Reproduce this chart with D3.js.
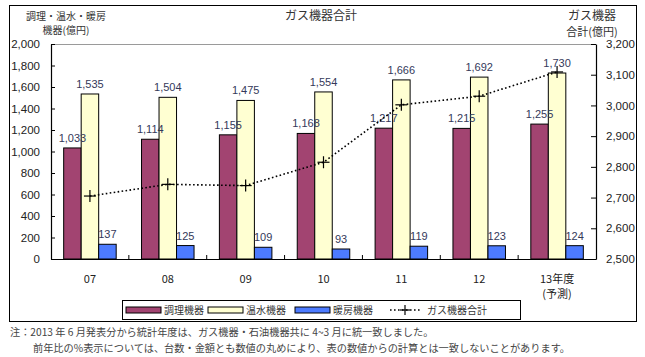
<!DOCTYPE html>
<html><head><meta charset="utf-8">
<script src="https://cdn.jsdelivr.net/npm/d3@7"></script>
<style>
html,body{margin:0;padding:0;background:#fff;}
svg{display:block;}
text{font-family:"Liberation Sans","Noto Sans CJK JP",sans-serif;}
.jp{font-family:"Noto Sans CJK JP","Liberation Sans",sans-serif;}
</style></head>
<body>
<svg id="c" width="645" height="357"></svg>
<script>
const categories = ["07","08","09","10","11","12","13年度"];
const cooking = [1033,1114,1155,1168,1217,1215,1255];
const water   = [1535,1504,1475,1554,1666,1692,1730];
const heating = [137,125,109,93,119,123,124];
const totals  = [2705,2743,2739,2815,3002,3030,3109];
const leftTicks = [0,200,400,600,800,1000,1200,1400,1600,1800,2000];
const rightTicks = [2500,2600,2700,2800,2900,3000,3100,3200];
const seriesNames = ["調理機器","温水機器","暖房機器"];
const seriesColors = ["#a24471","#ffffd2","#4d7bff"];
const lineName = "ガス機器合計";

const svg = d3.select("#c");
const L=51,R=596,T=44,B=259;

// outer frame
svg.append("rect").attr("x",9.5).attr("y",5.5).attr("width",627).attr("height",316)
  .attr("fill","none").attr("stroke","#000").attr("stroke-width",1);

const x0 = d3.scaleBand().domain(categories).range([L,R]).paddingInner(0).paddingOuter(0);
const x1 = d3.scaleBand().domain(seriesNames).range([0,x0.bandwidth()]).paddingInner(0).paddingOuter(0.724);
const yL = d3.scaleLinear().domain([0,2000]).range([B,T]);
const yR = d3.scaleLinear().domain([2500,3200]).range([B,T]);

// top plot border
svg.append("line").attr("x1",L).attr("x2",R).attr("y1",T+0.5).attr("y2",T+0.5).attr("stroke","#9a9a9a");

const seriesData = [cooking,water,heating];
const labelColor = "#34395a";
seriesData.forEach((arr,si)=>{
  const g = svg.append("g");
  g.selectAll("rect").data(arr).join("rect")
    .attr("x",(d,i)=>x0(categories[i])+x1(seriesNames[si]))
    .attr("y",d=>yL(d))
    .attr("width",x1.bandwidth())
    .attr("height",d=>B-yL(d))
    .attr("fill",seriesColors[si]).attr("stroke","#000").attr("stroke-width",1);
});

// axes
const axL = d3.axisLeft(yL).tickValues(leftTicks).tickSizeInner(-4).tickSizeOuter(0).tickPadding(11)
  .tickFormat(d3.format(","));
const gL = svg.append("g").attr("transform",`translate(${L},0)`).call(axL);
const axR = d3.axisRight(yR).tickValues(rightTicks).tickSizeInner(-5).tickSizeOuter(0).tickPadding(10)
  .tickFormat(d3.format(","));
const gR = svg.append("g").attr("transform",`translate(${R},0)`).call(axR);
const axB = d3.axisBottom(x0).tickValues([]).tickSizeOuter(0);
const gB = svg.append("g").attr("transform",`translate(0,${B})`).call(axB);
// category boundary ticks (inside)
gB.selectAll("line.sep").data(categories.slice(1)).join("line").attr("class","sep")
  .attr("x1",d=>x0(d)).attr("x2",d=>x0(d)).attr("y1",0).attr("y2",-4).attr("stroke","#000");
[gL,gR,gB].forEach(g=>{
  g.selectAll(".domain").attr("stroke","#000").attr("stroke-width",1.2);
  g.selectAll(".tick line").attr("stroke","#000");
  g.selectAll(".tick text").attr("font-size",11.5).attr("fill","#222")
    .style("font-family","Liberation Sans, Arial, sans-serif");
});

// category labels
svg.append("g").selectAll("text").data(categories).join("text")
  .attr("class","jp")
  .attr("x",d=>x0(d)+x0.bandwidth()/2).attr("y",283)
  .attr("text-anchor","middle").attr("font-size",11).attr("fill","#222")
  .text(d=>d);
svg.append("text").attr("class","jp")
  .attr("x",x0(categories[6])+x0.bandwidth()/2).attr("y",298)
  .attr("text-anchor","middle").attr("font-size",11).attr("fill","#222").text("(予測)");

// value labels
seriesData.forEach((arr,si)=>{
  svg.append("g").selectAll("text").data(arr).join("text")
    .attr("x",(d,i)=>x0(categories[i])+x1(seriesNames[si])+x1.bandwidth()/2)
    .attr("y",d=>yL(d)-6)
    .attr("text-anchor","middle").attr("font-size",11).attr("fill",labelColor)
    .text(d3.format(","));
});

// total line
const cx = (d,i)=>x0(categories[i])+x0.bandwidth()/2;
const line = d3.line().x((d,i)=>cx(d,i)).y(d=>yR(d));
svg.append("path").datum(totals).attr("d",line).attr("fill","none")
  .attr("stroke","#000").attr("stroke-width",1.6).attr("stroke-dasharray","1.6,2.4");
const cross = svg.append("g");
totals.forEach((d,i)=>{
  const X=cx(d,i),Y=yR(d);
  cross.append("line").attr("x1",X-6).attr("x2",X+6).attr("y1",Y).attr("y2",Y).attr("stroke","#000").attr("stroke-width",1.2);
  cross.append("line").attr("x1",X).attr("x2",X).attr("y1",Y-6).attr("y2",Y+6).attr("stroke","#000").attr("stroke-width",1.2);
});

// titles
const t = (x,y,s,fs,anchor)=>svg.append("text").attr("class","jp").attr("x",x).attr("y",y)
  .attr("text-anchor",anchor||"middle").attr("font-size",fs).attr("fill","#333").text(s);
t(66,20,"調理・温水・暖房",10);
t(66,34,"機器(億円)",10);
t(321,20,"ガス機器合計",12);
t(592,20,"ガス機器",12);
t(592,36,"合計(億円)",11);

// legend
svg.append("rect").attr("x",122.5).attr("y",300.5).attr("width",398).attr("height",19)
  .attr("fill","#fff").attr("stroke","#000").attr("stroke-width",1);
const legX = [126,208,295];
seriesNames.forEach((n,i)=>{
  svg.append("rect").attr("x",legX[i]).attr("y",307).attr("width",35).attr("height",6)
    .attr("fill",seriesColors[i]).attr("stroke","#000").attr("stroke-width",1);
  svg.append("text").attr("class","jp").attr("x",legX[i]+38).attr("y",314)
    .attr("font-size",10).attr("fill","#333").text(n);
});
svg.append("line").attr("x1",390).attr("x2",420).attr("y1",310).attr("y2",310)
  .attr("stroke","#000").attr("stroke-width",1.6).attr("stroke-dasharray","1.6,2.4");
svg.append("line").attr("x1",400).attr("x2",410).attr("y1",310).attr("y2",310).attr("stroke","#000").attr("stroke-width",1.2);
svg.append("line").attr("x1",405).attr("x2",405).attr("y1",305).attr("y2",315).attr("stroke","#000").attr("stroke-width",1.2);
svg.append("text").attr("class","jp").attr("x",427).attr("y",314).attr("font-size",10).attr("fill","#333").text(lineName);

// notes
svg.append("text").attr("class","jp").attr("x",10).attr("y",336).attr("font-size",10.2).attr("fill","#444")
  .text("注：2013 年 6 月発表分から統計年度は、ガス機器・石油機器共に 4~3 月に統一致しました。");
svg.append("text").attr("class","jp").attr("x",33).attr("y",352).attr("font-size",10.2).attr("fill","#444")
  .text("前年比の%表示については、台数・金額とも数値の丸めにより、表の数値からの計算とは一致しないことがあります。");
</script>
</body></html>
